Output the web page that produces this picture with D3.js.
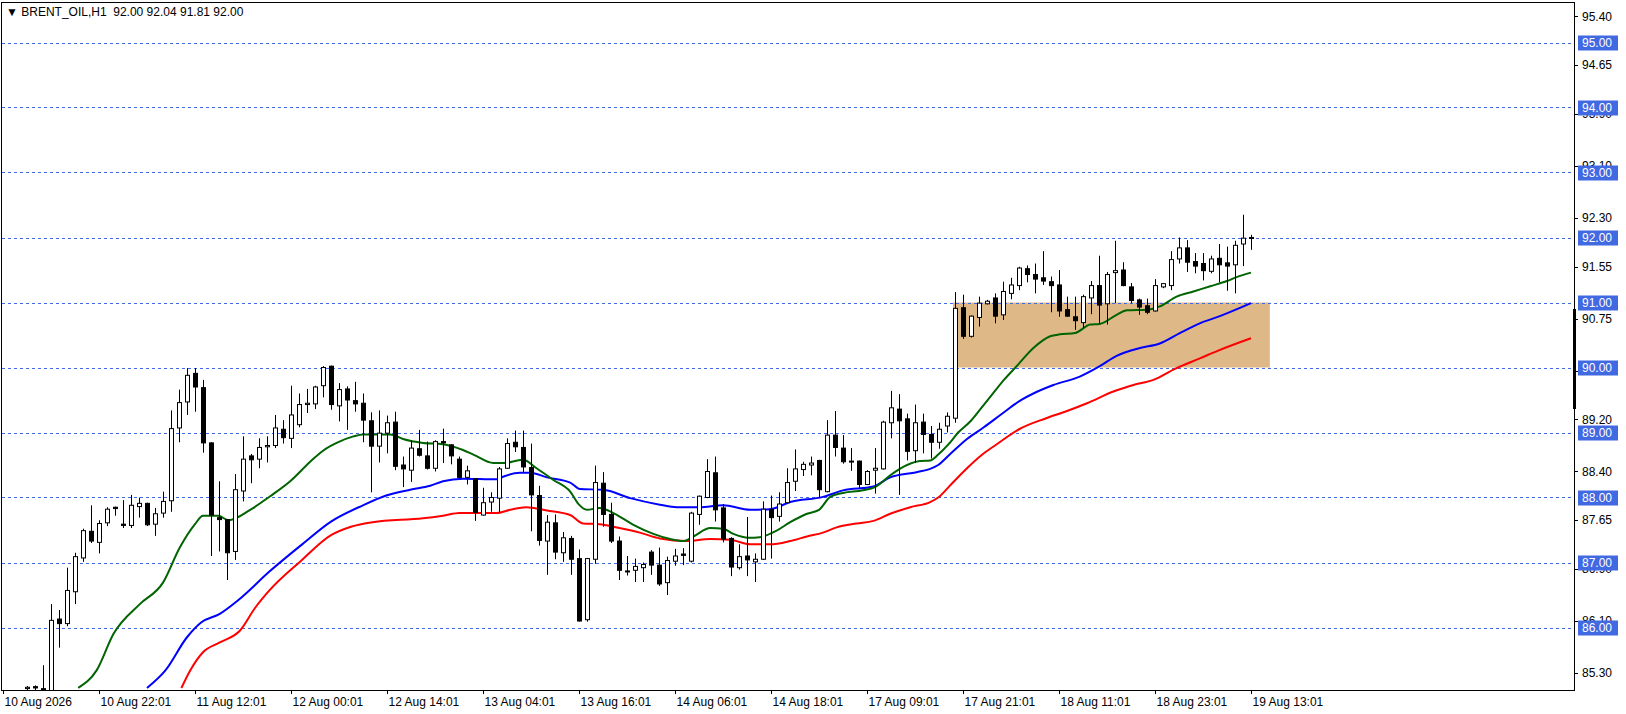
<!DOCTYPE html>
<html><head><meta charset="utf-8">
<script src="https://cdn.jsdelivr.net/npm/d3@7"></script>
<style>body{margin:0;background:#fff}svg{display:block}text{font-family:"Liberation Sans",Arial,sans-serif;font-size:12px}</style>
</head><body><svg id="chart" width="1626" height="714"></svg>
<script>
// OHLC of the H1 bars
const opens = [84.9,84.92,84.9,85.06,85.09,85.05,85.0,86.13,86.06,86.55,87.07,87.48,87.31,87.61,87.85,87.59,87.57,87.86,87.91,87.59,87.76,87.95,89.07,89.47,89.91,89.69,88.84,87.69,87.66,87.17,88.1,88.64,88.59,88.78,88.8,89.05,88.91,89.12,89.43,89.44,89.72,90.02,89.41,89.67,89.49,89.45,89.18,88.79,88.99,89.16,88.5,88.42,88.75,88.64,88.45,88.86,88.81,88.59,88.31,88.29,87.73,87.93,87.99,88.45,88.85,88.77,88.46,88.03,87.33,87.61,87.15,87.37,87.06,86.12,87.05,88.22,87.74,87.33,86.87,86.88,86.92,87.16,86.96,86.69,87.02,87.13,87.02,87.74,88.0,88.38,87.84,87.37,86.92,87.1,87.01,87.05,87.82,87.71,87.92,88.25,88.43,88.5,88.57,88.09,88.96,88.76,88.55,88.56,88.2,88.42,88.44,89.15,89.36,89.21,88.72,89.16,88.97,88.85,89.1,89.22,90.92,90.48,90.77,90.98,91.07,90.81,91.14,91.26,91.52,91.43,91.38,91.32,91.27,90.89,90.78,90.69,91.07,91.26,90.98,91.46,91.5,91.24,91.04,90.95,90.87,91.24,91.26,91.67,91.84,91.63,91.6,91.48,91.68,91.61,91.58,91.9,92.0];
const highs = [84.95,84.97,85.0,85.1,85.11,85.42,86.36,86.27,86.92,87.15,87.52,87.88,87.65,87.85,87.86,87.96,88.04,88.0,87.92,87.84,88.09,89.34,89.66,89.99,89.99,89.81,88.85,88.25,87.67,88.36,88.94,88.67,88.91,88.94,89.27,89.19,89.72,89.6,89.67,89.72,90.02,90.03,89.76,89.71,89.78,89.6,89.31,89.34,89.26,89.32,88.63,88.88,89.04,88.86,88.88,89.06,88.82,88.63,88.49,88.3,88.15,88.08,88.47,88.91,89.03,89.03,88.83,88.18,87.73,87.74,87.47,87.41,87.2,87.07,88.49,88.39,87.92,87.4,87.1,87.06,87.0,87.19,87.23,87.09,87.21,87.22,87.78,88.03,88.59,88.63,87.9,87.39,87.28,87.7,87.14,87.94,88.03,88.08,88.45,88.74,88.55,88.63,88.58,89.19,89.33,88.96,88.76,88.57,88.42,88.76,89.18,89.64,89.59,89.29,89.43,89.29,89.1,89.15,89.31,91.16,91.12,90.8,91.09,91.04,91.14,91.32,91.38,91.55,91.57,91.6,91.79,91.4,91.5,91.09,91.09,91.12,91.33,91.72,91.47,91.95,91.62,91.3,91.06,91.06,91.36,91.3,91.79,92.0,91.96,91.76,91.76,91.72,91.9,91.86,91.95,92.35,92.04];
const lows = [84.85,84.88,84.86,85.0,85.02,84.95,84.98,85.69,86.02,86.36,87.01,87.3,87.14,87.56,87.72,87.53,87.53,87.69,87.56,87.41,87.69,87.78,88.85,89.27,89.32,88.69,87.1,87.17,86.73,87.04,87.94,88.22,88.45,88.54,88.76,88.83,88.76,89.08,89.3,89.36,89.54,89.35,89.17,89.04,89.32,88.85,88.08,88.54,88.68,88.42,88.16,88.24,88.63,88.43,88.4,88.53,88.51,88.3,88.2,87.64,87.72,87.78,87.77,88.44,88.7,88.39,87.48,87.26,86.81,87.05,87.01,86.81,86.09,86.09,86.98,87.55,87.3,86.73,86.8,86.7,86.7,86.81,86.64,86.5,86.95,86.96,87.0,87.58,87.99,87.63,87.31,86.79,86.89,86.79,86.7,87.04,87.06,87.63,87.91,88.1,88.33,88.34,88.0,88.08,88.63,88.52,88.41,88.14,88.19,88.06,88.43,88.91,88.04,88.57,88.53,88.68,88.6,88.75,89.0,89.15,90.44,90.46,90.63,90.97,90.68,90.73,91.05,91.19,91.31,91.14,91.27,90.85,90.78,90.78,90.58,90.61,90.82,90.68,90.66,90.99,91.25,90.99,90.81,90.82,90.86,91.22,91.19,91.6,91.47,91.45,91.34,91.45,91.31,91.18,91.14,91.56,91.81];
const closes = [84.92,84.9,84.96,85.08,85.07,85.06,86.11,86.06,86.57,87.09,87.49,87.33,87.6,87.82,87.83,87.57,87.88,87.91,87.58,87.75,87.94,89.06,89.46,89.88,89.7,88.84,87.73,87.66,87.15,88.12,88.59,88.58,88.77,88.8,89.07,88.92,89.27,89.43,89.45,89.7,90.0,89.43,89.66,89.5,89.44,89.19,88.79,88.99,89.15,88.48,88.44,88.76,88.65,88.45,88.86,88.84,88.64,88.31,88.41,87.77,87.92,88.0,88.44,88.83,88.78,88.47,88.04,87.34,87.62,87.16,87.38,87.05,86.1,87.06,88.23,87.74,87.33,86.88,86.86,86.94,86.97,86.96,86.67,87.03,87.1,87.11,87.76,88.02,88.4,87.81,87.36,86.93,87.09,87.04,87.05,87.82,87.69,87.9,88.23,88.44,88.51,88.53,88.12,88.96,88.77,88.55,88.56,88.2,88.4,88.45,89.16,89.38,89.18,88.71,89.15,88.97,88.85,89.05,89.25,90.91,90.48,90.79,90.99,91.02,90.79,91.17,91.27,91.53,91.43,91.36,91.33,91.26,90.87,90.79,90.72,91.09,91.26,90.96,91.43,91.49,91.26,91.03,90.93,90.85,91.26,91.29,91.66,91.84,91.62,91.56,91.49,91.67,91.58,91.56,91.88,91.99,92.0];

// moving averages, sampled [bar, price]
const maGreen = [[9.4,85.07],[11.7,85.34],[13.8,85.9],[17.1,86.36],[20,86.69],[22.1,87.23],[24,87.59],[25,87.72],[26.9,87.72],[28.2,87.65],[30.9,87.81],[33.4,88.02],[35.9,88.25],[38.4,88.55],[40,88.72],[41.7,88.84],[43.8,88.94],[45,88.97],[48.4,88.97],[50,88.9],[52.5,88.84],[55,88.82],[57.5,88.73],[58.8,88.66],[61.3,88.53],[62.5,88.53],[65,88.58],[66.7,88.45],[68.8,88.27],[70.9,88.09],[72,87.89],[73,87.81],[74.6,87.84],[76.3,87.76],[78.8,87.58],[81.3,87.44],[83.4,87.36],[85,87.33],[86.3,87.4],[88.4,87.53],[90,87.52],[91.3,87.44],[93.2,87.38],[94.6,87.39],[96.7,87.49],[98.4,87.62],[100.5,87.75],[102,87.81],[103.4,88.01],[105,88.07],[107.5,88.11],[109,88.16],[110.9,88.34],[112.1,88.44],[114.6,88.56],[115.9,88.57],[116.9,88.66],[118.2,88.82],[119.4,89.0],[120.9,89.17],[122.3,89.38],[123.8,89.61],[125.2,89.82],[126.7,90.02],[128.8,90.3],[130.9,90.48],[132.1,90.51],[134,90.53],[135.9,90.66],[137.1,90.67],[139.2,90.81],[140.5,90.88],[143,90.89],[144.6,90.94],[146.7,91.09],[148.8,91.17],[150.9,91.25],[153,91.33],[154.2,91.39],[156,91.46]];
const maBlue = [[18,85.07],[20.3,85.34],[23,85.85],[24.8,86.08],[27.1,86.21],[29.5,86.43],[33.3,86.86],[37.2,87.26],[41,87.63],[45,87.88],[47.9,88.03],[50.9,88.12],[53.4,88.18],[55,88.25],[57.5,88.29],[61.7,88.28],[62.5,88.32],[64.6,88.38],[65.9,88.38],[68,88.31],[70.9,88.23],[72.1,88.13],[75,88.12],[78.4,87.99],[82.1,87.89],[84.2,87.85],[87.1,87.85],[90,87.88],[93.4,87.81],[95.9,87.82],[98.4,87.93],[102.5,88.01],[105,88.11],[108.8,88.17],[110.9,88.31],[114.2,88.39],[115.9,88.44],[116.9,88.5],[118.5,88.68],[120.5,88.9],[122.6,89.08],[125,89.3],[127,89.48],[128.8,89.6],[131.3,89.73],[134.6,89.86],[137.1,90.02],[139.2,90.18],[142.1,90.3],[144.6,90.37],[147.1,90.53],[149.6,90.68],[152.1,90.79],[156,90.99]];
const maRed = [[22.3,85.07],[23.4,85.34],[25,85.62],[27.1,85.77],[29.6,85.95],[31.5,86.3],[33.3,86.57],[37.2,87.02],[41,87.42],[43.5,87.55],[46.2,87.62],[52.5,87.68],[55,87.72],[57.1,87.76],[61.7,87.76],[63.4,87.81],[65.4,87.85],[68,87.8],[70.9,87.73],[72.5,87.6],[74.6,87.59],[76.7,87.54],[79.6,87.46],[82.1,87.37],[85.5,87.33],[88.4,87.36],[90.9,87.35],[93.4,87.28],[95.9,87.28],[98.4,87.33],[100.5,87.4],[102.5,87.46],[104.2,87.54],[106.7,87.6],[108.8,87.64],[110.9,87.75],[113.4,87.85],[115.9,87.93],[116.9,88.0],[118.5,88.2],[120.5,88.45],[122.3,88.65],[124,88.8],[127,89.05],[130.4,89.22],[133,89.33],[135.5,89.45],[138.8,89.63],[141.3,89.73],[143.8,89.81],[146.5,89.98],[149.6,90.14],[151.9,90.26],[156,90.45]];

const levels = [95, 94, 93, 92, 91, 90, 89, 88, 87, 86];
const priceTicks = [95.40, 94.65, 93.90, 93.10, 92.30, 91.55, 90.75, 89.95, 89.20, 88.40, 87.65, 86.90, 86.10, 85.30];
const timeLabels = ["10 Aug 2026","10 Aug 22:01","11 Aug 12:01","12 Aug 00:01","12 Aug 14:01","13 Aug 04:01","13 Aug 16:01","14 Aug 06:01","14 Aug 18:01","17 Aug 09:01","17 Aug 21:01","18 Aug 11:01","18 Aug 23:01","19 Aug 13:01"];
const zone = {from: 119, to: 158.6, lo: 90, hi: 91};

const svg = d3.select("#chart");
const L = 2, T = 3, R = 1574, B = 690;
const x = d3.scaleLinear().domain([0, 1]).range([3, 11]);
const y = d3.scaleLinear().domain([95, 85]).range([42.5, 692.5]);

svg.append("clipPath").attr("id", "plot").append("rect")
  .attr("x", L).attr("y", T).attr("width", R - L).attr("height", B - T);
const g = svg.append("g").attr("clip-path", "url(#plot)");

g.append("rect").attr("x", x(zone.from) - 2).attr("width", x(zone.to) - x(zone.from))
  .attr("y", y(zone.hi)).attr("height", y(zone.lo) - y(zone.hi)).attr("fill", "#deb887");

g.selectAll(".lvl").data(levels).join("line")
  .attr("x1", L).attr("x2", R).attr("y1", d => Math.round(y(d)) + .5).attr("y2", d => Math.round(y(d)) + .5)
  .attr("stroke", "#4169e1").attr("stroke-dasharray", "3,3");

const line = d3.line().curve(d3.curveMonotoneX).x(d => x(d[0])).y(d => y(d[1]));
[[maRed, "#ff0000"], [maBlue, "#0000ff"], [maGreen, "#006400"]].forEach(([d, c]) => {
  g.append("path").datum(d).attr("d", line).attr("fill", "none").attr("stroke", c).attr("stroke-width", 2);
});

const bars = opens.map((o, i) => ({i, o, h: highs[i], l: lows[i], c: closes[i]}));
const cg = g.selectAll(".c").data(bars).join("g");
cg.append("line").attr("x1", d => Math.round(x(d.i)) + .5).attr("x2", d => Math.round(x(d.i)) + .5)
  .attr("y1", d => y(d.h)).attr("y2", d => y(d.l)).attr("stroke", "#000");
cg.append("rect").attr("x", d => Math.round(x(d.i)) - 1.5).attr("width", 4)
  .attr("y", d => y(Math.max(d.o, d.c))).attr("height", d => Math.max(1, Math.abs(y(d.o) - y(d.c))))
  .attr("fill", d => d.c >= d.o ? "#fff" : "#000").attr("stroke", "#000");

// frame
svg.append("rect").attr("x", L - .5).attr("y", T - .5).attr("width", R - L + 1).attr("height", B - T + 1)
  .attr("fill", "none").attr("stroke", "#000");
svg.append("rect").attr("x", R - 1).attr("y", 309).attr("width", 3).attr("height", 100).attr("fill", "#000");

// price axis
const ya = svg.append("g");
priceTicks.forEach(p => {
  ya.append("line").attr("x1", R).attr("x2", R + 4).attr("y1", Math.round(y(p)) + .5).attr("y2", Math.round(y(p)) + .5).attr("stroke", "#000");
  ya.append("text").attr("x", R + 8).attr("y", y(p) + 4).text(p.toFixed(2));
});
levels.forEach(p => {
  ya.append("rect").attr("x", R + 4).attr("y", y(p) - 7).attr("width", 40).attr("height", 15).attr("fill", "#4169e1");
  ya.append("text").attr("x", R + 8).attr("y", y(p) + 4.5).attr("fill", "#fff").text(p.toFixed(2));
});

// time axis
timeLabels.forEach((t, k) => {
  const xx = Math.round(x(k * 12)) + .5;
  svg.append("line").attr("x1", xx).attr("x2", xx).attr("y1", B).attr("y2", B + 4).attr("stroke", "#000");
  svg.append("text").attr("x", xx + 1).attr("y", B + 16).text(t);
});

svg.append("text").attr("x", 6).attr("y", 16)
  .text("\u25BC BRENT_OIL,H1  92.00 92.04 91.81 92.00").attr("xml:space", "preserve");
</script></body></html>
